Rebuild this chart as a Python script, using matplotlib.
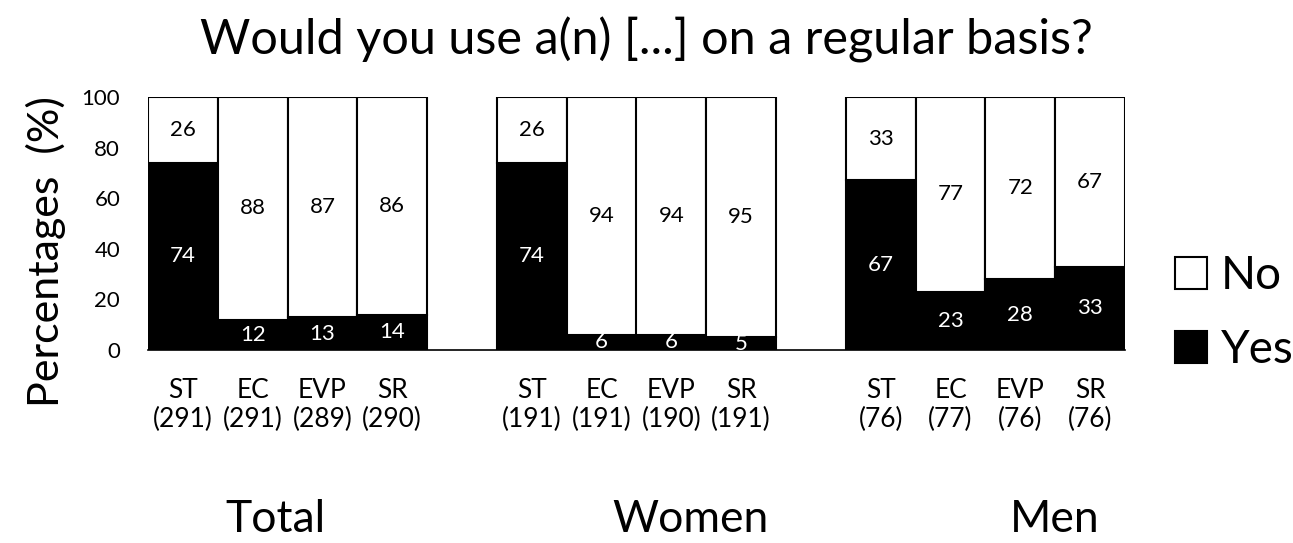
import matplotlib
matplotlib.use("Agg")
import matplotlib.pyplot as plt
from matplotlib.patches import Patch
import numpy as np

plt.rcParams['font.family'] = ['Lato', 'DejaVu Sans']

groups = ["Total", "Women", "Men"]
methods = ["ST", "EC", "EVP", "SR"]
counts = [[291, 291, 289, 290], [191, 191, 190, 191], [76, 77, 76, 76]]
yes_vals = [[74, 12, 13, 14], [74, 6, 6, 5], [67, 23, 28, 33]]
no_vals = [[26, 88, 87, 86], [26, 94, 94, 95], [33, 77, 72, 67]]

fig = plt.figure(figsize=(12.93, 5.43), dpi=100)
ax = fig.add_axes([148/1293, 1-350/543, (1125-148)/1293, (350-97)/543])

positions, labels = [], []
for gi in range(3):
    for mi in range(4):
        x = gi * 5 + mi
        positions.append(x)
        labels.append(f"{methods[mi]}\n({counts[gi][mi]})")
        y = yes_vals[gi][mi]
        n = no_vals[gi][mi]
        ax.bar(x, y, width=1.0, color='black', edgecolor='black', linewidth=1.5)
        ax.bar(x, n, bottom=y, width=1.0, color='white', edgecolor='black', linewidth=1.5)
        ax.text(x, y / 2, str(y), color='white', ha='center', va='center', fontsize=16, clip_on=True)
        ax.text(x, y + n / 2, str(n), color='black', ha='center', va='center', fontsize=16)

ax.set_xlim(-0.5, 13.5)
ax.set_ylim(0, 100)
ax.set_yticks(np.arange(0, 101, 20))
ax.tick_params(axis='y', length=0, labelsize=16, pad=20)
ax.set_xticks(positions)
ax.set_xticklabels(labels, fontsize=19, linespacing=1.2)
ax.tick_params(axis='x', length=0, pad=20)
for s in ['top', 'right', 'left']:
    ax.spines[s].set_visible(False)
ax.spines['bottom'].set_linewidth(1.2)

fig.text(46/1293, 1-252/543, "Percentages  (%)", rotation=90, ha='center', va='center', fontsize=31)
fig.text(646/1293, 1-40/543, "Would you use a(n) [...] on a regular basis?", ha='center', va='center', fontsize=35)
for gname, gx in zip(groups, [275, 690, 1055]):
    fig.text(gx/1293, 1-520/543, gname, ha='center', va='center', fontsize=32)

handles = [Patch(facecolor='white', edgecolor='black', linewidth=1.5, label='No'),
           Patch(facecolor='black', edgecolor='black', linewidth=1.5, label='Yes')]
fig.legend(handles=handles, loc='center left', bbox_to_anchor=(1175/1293, 1-313/543), frameon=False,
           fontsize=33, handlelength=0.7, handleheight=0.7, handletextpad=0.3, labelspacing=0.7,
           borderpad=0, borderaxespad=0)

fig.savefig("out.png", dpi=100)
